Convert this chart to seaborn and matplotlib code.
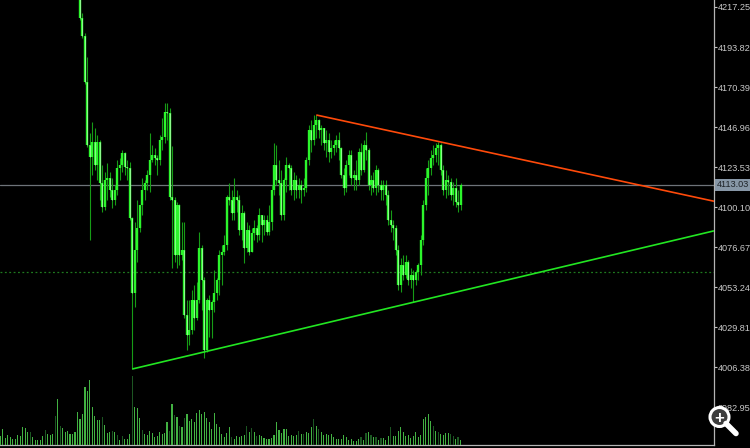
import numpy as np
import pandas as pd
import seaborn as sns
import matplotlib.pyplot as plt
from matplotlib.patches import Circle
from matplotlib.lines import Line2D

# ---- data ----------------------------------------------------------------------------------

# tick volume of every bar (bar 0 = left edge of the window)
volumes = [9, 16, 7, 10, 8, 6, 6, 10, 9, 18, 17, 13, 13, 8, 5, 5, 5, 9, 15, 11,
           10, 11, 29, 46, 19, 17, 13, 14, 11, 11, 13, 33, 26, 31, 58, 54, 65, 38, 29, 25,
           25, 28, 20, 12, 13, 14, 13, 10, 5, 9, 6, 6, 11, 69, 38, 37, 27, 15, 11, 10,
           14, 12, 8, 9, 13, 11, 12, 23, 14, 41, 30, 28, 19, 18, 27, 31, 24, 26, 23, 32,
           35, 31, 33, 27, 23, 16, 32, 21, 18, 11, 8, 12, 18, 8, 6, 9, 8, 9, 10, 19,
           13, 17, 13, 9, 10, 9, 7, 6, 6, 7, 10, 23, 15, 12, 16, 16, 9, 10, 9, 10,
           14, 11, 11, 13, 12, 18, 26, 19, 16, 13, 10, 11, 10, 11, 8, 6, 6, 6, 10, 8,
           5, 6, 4, 4, 6, 8, 5, 12, 13, 10, 8, 8, 5, 7, 7, 5, 9, 18, 9, 9,
           14, 18, 13, 9, 10, 7, 9, 13, 8, 10, 26, 28, 31, 24, 19, 14, 13, 11, 10, 12,
           12, 11, 9, 6, 8, 5]
# bars whose volume is drawn in the darker green
vol_dark = [12, 18, 22, 24, 41, 45, 47, 49, 53, 57, 68, 70, 72, 74, 93, 99, 101, 103,
            120, 122, 126, 128, 145, 147, 149, 151, 153, 157, 174, 176, 181, 182, 184]

# candles: the first 32 bars are above the visible price range
first_bar = 32
first_open = 4228.0
highs = [4235.0, 4213.8, 4202.0, 4188.0, 4143.5, 4149.9, 4146.4, 4142.3, 4139.4, 4124.7,
         4120.6, 4125.9, 4120.6, 4117.1, 4113.0, 4127.7, 4128.8, 4133.5, 4132.4, 4127.7,
         4126.5, 4094.3, 4091.4, 4104.2, 4101.3, 4117.1, 4115.9, 4121.8, 4143.5, 4136.4,
         4134.7, 4130.6, 4142.3, 4152.3, 4161.0, 4161.0, 4158.0, 4135.9, 4106.0, 4103.1,
         4102.0, 4091.4, 4091.4, 4045.6, 4045.6, 4051.5, 4054.4, 4056.2, 4085.5, 4077.9,
         4059.1, 4046.8, 4048.6, 4045.6, 4063.2, 4058.5, 4074.9, 4077.9, 4083.7, 4107.2,
         4114.2, 4110.1, 4117.1, 4110.1, 4107.2, 4101.3, 4098.0, 4091.4, 4089.6, 4087.8,
         4092.5, 4089.6, 4099.5, 4095.4, 4095.4, 4095.4, 4101.3, 4113.0, 4137.6, 4136.4,
         4127.7, 4121.8, 4117.1, 4129.4, 4125.9, 4124.7, 4120.6, 4118.9, 4117.1, 4115.9,
         4117.1, 4129.4, 4148.2, 4151.1, 4154.0, 4154.0, 4151.7, 4148.2, 4146.4, 4145.2,
         4143.5, 4139.4, 4139.4, 4142.3, 4144.1, 4135.5, 4123.0, 4127.7, 4133.5, 4133.5,
         4121.8, 4127.7, 4134.7, 4137.6, 4139.4, 4144.1, 4134.7, 4118.9, 4120.6, 4124.7,
         4123.0, 4115.9, 4115.9, 4115.9, 4110.1, 4098.4, 4092.5, 4089.6, 4077.9, 4070.2,
         4072.0, 4072.0, 4069.1, 4064.4, 4063.2, 4063.2, 4067.3, 4083.7, 4104.2, 4123.0,
         4127.7, 4133.5, 4136.4, 4137.6, 4138.2, 4137.6, 4124.7, 4121.8, 4118.9, 4117.1,
         4114.8, 4117.1, 4110.1, 4114.2]
lows = [4209.7, 4199.1, 4172.2, 4135.3, 4080.8, 4118.9, 4121.8, 4115.9, 4104.2, 4097.2,
        4098.4, 4104.2, 4106.0, 4099.5, 4101.3, 4107.2, 4115.9, 4120.6, 4118.9, 4115.9,
        4092.5, 4005.2, 4041.5, 4067.9, 4085.5, 4095.4, 4104.2, 4110.1, 4108.9, 4126.5,
        4124.7, 4118.9, 4124.7, 4133.5, 4137.6, 4139.4, 4104.2, 4064.4, 4067.9, 4064.4,
        4066.1, 4069.1, 4035.1, 4016.3, 4019.3, 4026.0, 4028.1, 4033.9, 4044.0, 4039.8,
        4011.7, 4015.0, 4024.0, 4023.4, 4038.6, 4045.6, 4048.6, 4054.4, 4072.0, 4074.9,
        4101.3, 4092.5, 4092.5, 4097.2, 4083.7, 4080.8, 4067.3, 4073.8, 4072.0, 4073.8,
        4080.8, 4079.6, 4080.8, 4079.6, 4083.7, 4083.7, 4083.7, 4086.7, 4107.2, 4113.0,
        4107.2, 4092.5, 4092.5, 4108.9, 4110.1, 4107.2, 4104.2, 4105.4, 4105.4, 4102.5,
        4106.6, 4108.9, 4124.7, 4132.4, 4136.4, 4140.5, 4140.5, 4136.4, 4133.5, 4129.4,
        4126.5, 4128.8, 4130.6, 4132.4, 4127.7, 4117.1, 4107.2, 4108.9, 4118.9, 4113.0,
        4110.1, 4110.1, 4113.0, 4118.9, 4120.6, 4127.7, 4110.1, 4107.2, 4108.9, 4107.2,
        4108.9, 4104.2, 4104.2, 4101.3, 4089.6, 4085.5, 4080.8, 4072.0, 4051.5, 4050.3,
        4057.4, 4058.5, 4054.4, 4052.7, 4044.5, 4054.4, 4057.4, 4060.3, 4077.9, 4098.4,
        4107.2, 4118.9, 4124.7, 4126.5, 4124.7, 4118.9, 4107.2, 4105.4, 4107.2, 4104.2,
        4101.3, 4100.1, 4097.2, 4098.4]
closes = [4210.8, 4200.3, 4173.4, 4136.4, 4129.4, 4138.2, 4124.7, 4138.2, 4114.2, 4100.1,
          4115.9, 4117.1, 4110.1, 4104.2, 4110.1, 4123.0, 4124.7, 4131.8, 4123.6, 4123.0,
          4093.7, 4049.8, 4074.9, 4087.8, 4101.3, 4110.1, 4114.2, 4118.9, 4127.7, 4130.6,
          4128.8, 4127.7, 4139.4, 4141.1, 4155.8, 4155.2, 4106.0, 4104.2, 4072.0, 4101.3,
          4072.0, 4074.9, 4036.8, 4025.1, 4028.1, 4045.6, 4035.1, 4045.6, 4076.1, 4057.4,
          4016.3, 4045.6, 4039.8, 4044.5, 4049.8, 4057.4, 4072.0, 4073.8, 4077.9, 4106.0,
          4104.2, 4096.6, 4106.0, 4104.2, 4086.7, 4096.6, 4076.1, 4086.7, 4073.8, 4084.9,
          4087.8, 4083.7, 4095.4, 4089.6, 4092.5, 4085.5, 4091.4, 4110.1, 4124.7, 4115.9,
          4114.2, 4095.4, 4115.9, 4124.7, 4123.0, 4110.1, 4115.9, 4110.1, 4113.0, 4110.1,
          4111.3, 4127.7, 4145.2, 4139.4, 4148.2, 4151.1, 4145.2, 4146.4, 4137.6, 4139.4,
          4132.4, 4134.7, 4136.4, 4139.4, 4134.7, 4118.9, 4111.3, 4124.7, 4130.6, 4117.1,
          4118.9, 4115.9, 4132.4, 4121.8, 4136.4, 4133.5, 4113.0, 4115.9, 4111.3, 4121.8,
          4113.0, 4110.1, 4113.0, 4107.2, 4092.5, 4089.6, 4087.8, 4074.9, 4054.4, 4066.1,
          4060.3, 4067.9, 4057.4, 4060.3, 4057.4, 4062.0, 4066.1, 4080.8, 4101.3, 4117.1,
          4123.0, 4128.8, 4130.6, 4134.7, 4136.4, 4121.8, 4110.1, 4115.9, 4114.8, 4107.2,
          4111.3, 4103.1, 4101.3, 4113.03]
opens = [first_open] + closes[:-1]

bid = 4113.03
level_dotted = 4062.0
price_ticks = [4217.25, 4193.82, 4170.39, 4146.96, 4123.53, 4100.10,
               4076.67, 4053.24, 4029.81, 4006.38, 3982.95]
day_ticks = [4, 36, 68, 100, 132, 164]

# trend lines: two anchors (bar, price) each, drawn as rays to the right
resist_line = [(127, 4154.0), (177, 4138.2)]
support_line = [(53, 4005.2), (166, 4044.3)]

# ---- figure -------------------------------------------------------------------------------

sns.set_style("dark", {"axes.facecolor": "black", "figure.facecolor": "black"})
plt.rcParams['font.family'] = ['Liberation Sans', 'DejaVu Sans']

fig = plt.figure(figsize=(7.5, 4.48), dpi=100, facecolor="black")
ax = fig.add_axes([0, 3 / 448, 714 / 750, 445 / 448])
ax.set_facecolor("black")

# volumes in the bottom of the same window
vax = ax.twinx()
vol_df = pd.DataFrame({"bar": np.arange(len(volumes)), "volume": volumes})
vol_df["kind"] = np.where(vol_df["bar"].isin(vol_dark), "dark", "bright")
sns.barplot(data=vol_df, x="bar", y="volume", hue="kind", native_scale=True, dodge=False,
            palette={"bright": "#2fc42f", "dark": "#12601a"}, width=0.45, linewidth=0,
            errorbar=None, legend=False, ax=vax)
vax.set_ylim(0, max(volumes) * 6.45)
vax.set_yticks([])
vax.set_ylabel("")
vax.set_xlabel("")
for s in vax.spines.values():
    s.set_visible(False)

# candles
bars = pd.DataFrame({"o": opens, "h": highs, "l": lows, "c": closes})
bars["x"] = np.arange(first_bar, first_bar + len(bars))
bear = bars[bars.c < bars.o]
ax.vlines(bars.x, bars.l, bars.h, colors="#169c16", lw=0.8, zorder=3)
ax.vlines(bars.x, bars.o, bars.c, colors="#2cf52c", lw=1.7, zorder=4)
ax.vlines(bear.x, bear.o, bear.c, colors="#d6ffd6", lw=0.4, zorder=5)

ax.set_xlim(-0.16, 286.9)
ax.set_ylim(3960.7, 4221.35)

# horizontal levels
ax.axhline(bid, color="#6e7379", lw=0.9, zorder=2)
ax.axhline(level_dotted, color="#1f7a1f", lw=0.9, ls=(0, (1.5, 2)), zorder=2)

# trend lines
for (x1, y1), (x2, y2), col in [(*resist_line, "#ff4a0a"), (*support_line, "#22e622")]:
    slope = (y2 - y1) / (x2 - x1)
    xe = 286.9
    ax.plot([x1, xe], [y1, y1 + slope * (xe - x1)], color=col, lw=1.2, zorder=6,
            solid_capstyle="butt")

# axes look
ax.yaxis.tick_right()
ax.set_yticks(price_ticks)
ax.set_yticklabels([f"{v:.2f}" for v in price_ticks])
ax.tick_params(axis="y", colors="#c8c8c8", labelsize=6.6, length=2.5, width=0.8, pad=0.5,
               direction="out")
ax.set_xticks(day_ticks)
ax.set_xticklabels([])
ax.tick_params(axis="x", colors="#d0d0d0", length=3, width=0.8, direction="out")
ax.grid(False)
vax.grid(False)
ax.spines["left"].set_visible(False)
ax.spines["top"].set_visible(False)
ax.spines["right"].set_color("#b4b4b4")
ax.spines["bottom"].set_color("#b4b4b4")
ax.spines["right"].set_linewidth(0.9)
ax.spines["bottom"].set_linewidth(0.9)

# current price label on the scale
ax.text(1.004, bid, f"{bid:.2f}", transform=ax.get_yaxis_transform(), ha="left",
        va="center", fontsize=6.6, color="#1e2328",
        bbox=dict(boxstyle="square,pad=0.2", fc="#8797a7", ec="none"), clip_on=False)

# zoom icon in the corner (drawn in inches from the lower left)
icon = fig.dpi_scale_trans
fig.add_artist(Line2D([7.26, 7.36], [0.245, 0.145], transform=icon, color="white",
                      lw=4, solid_capstyle="round"))
fig.add_artist(Circle((7.195, 0.31), 0.095, transform=icon, fc="#3c3c3c", ec="white",
                      lw=2.2))
fig.text(7.195, 0.31, "+", transform=icon, color="white", fontsize=12,
         fontweight="bold", ha="center", va="center_baseline")

fig.savefig("out.png", dpi=100, facecolor="black")
